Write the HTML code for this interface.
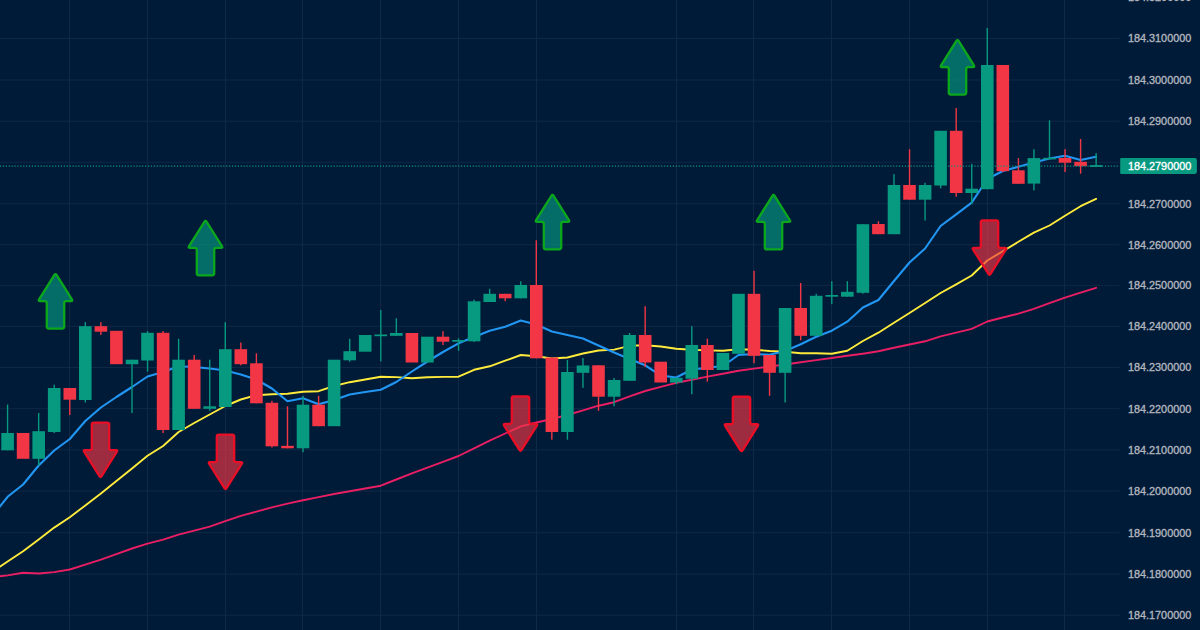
<!DOCTYPE html>
<html lang="en">
<head>
<meta charset="utf-8">
<title>Chart</title>
<style>
html,body{margin:0;padding:0;background:#001b38;}
body{width:1200px;height:630px;overflow:hidden;font-family:"Liberation Sans",sans-serif;}
svg{display:block;}
</style>
</head>
<body>
<svg width="1200" height="630" viewBox="0 0 1200 630">
<rect width="1200" height="630" fill="#001b38"/>
<g stroke="#0f2845" stroke-width="1" shape-rendering="auto"><line x1="0" y1="38.5" x2="1119.5" y2="38.5"/><line x1="0" y1="80.0" x2="1119.5" y2="80.0"/><line x1="0" y1="121.2" x2="1119.5" y2="121.2"/><line x1="0" y1="162.4" x2="1119.5" y2="162.4"/><line x1="0" y1="203.7" x2="1119.5" y2="203.7"/><line x1="0" y1="244.7" x2="1119.5" y2="244.7"/><line x1="0" y1="285.4" x2="1119.5" y2="285.4"/><line x1="0" y1="326.3" x2="1119.5" y2="326.3"/><line x1="0" y1="367.5" x2="1119.5" y2="367.5"/><line x1="0" y1="408.7" x2="1119.5" y2="408.7"/><line x1="0" y1="449.8" x2="1119.5" y2="449.8"/><line x1="0" y1="491.0" x2="1119.5" y2="491.0"/><line x1="0" y1="532.7" x2="1119.5" y2="532.7"/><line x1="0" y1="574.2" x2="1119.5" y2="574.2"/><line x1="0" y1="615.2" x2="1119.5" y2="615.2"/><line x1="69.5" y1="0" x2="69.5" y2="630"/><line x1="147.5" y1="0" x2="147.5" y2="630"/><line x1="225.5" y1="0" x2="225.5" y2="630"/><line x1="302.5" y1="0" x2="302.5" y2="630"/><line x1="380.5" y1="0" x2="380.5" y2="630"/><line x1="458.5" y1="0" x2="458.5" y2="630"/><line x1="536.5" y1="0" x2="536.5" y2="630"/><line x1="676.5" y1="0" x2="676.5" y2="630"/><line x1="753.5" y1="0" x2="753.5" y2="630"/><line x1="831.5" y1="0" x2="831.5" y2="630"/><line x1="909.5" y1="0" x2="909.5" y2="630"/><line x1="987.5" y1="0" x2="987.5" y2="630"/><line x1="1064.5" y1="0" x2="1064.5" y2="630"/></g>
<polyline points="-8.0,577.0 7.6,575.4 23.1,572.8 38.7,573.5 54.2,572.1 69.8,569.5 85.3,564.6 100.9,559.7 116.4,554.1 132.0,548.5 147.5,543.7 163.1,539.7 178.6,534.7 194.2,530.6 209.7,526.7 225.3,521.1 240.8,515.9 256.4,511.6 271.9,507.4 287.5,503.7 303.0,500.2 318.6,497.1 334.1,494.0 349.7,491.3 365.2,488.5 380.8,485.7 396.3,479.5 411.9,473.4 427.4,467.7 443.0,461.9 458.5,456.0 474.1,448.3 489.7,440.7 505.2,433.5 520.8,426.3 536.3,422.5 551.9,419.0 567.4,415.0 583.0,410.3 598.5,405.7 614.1,402.2 629.6,396.3 645.2,391.0 660.7,386.8 676.3,382.8 691.8,379.7 707.4,376.6 722.9,373.8 738.5,370.8 754.0,368.6 769.6,366.5 785.1,364.5 800.7,362.3 816.2,360.1 831.8,358.0 847.3,355.8 862.9,353.7 878.4,351.3 894.0,347.7 909.5,344.5 925.1,341.3 940.6,336.3 956.2,332.6 971.7,328.8 987.3,321.5 1002.8,317.5 1018.4,313.6 1033.9,308.8 1049.5,303.2 1065.0,297.6 1080.6,292.6 1096.1,287.8" fill="none" stroke="#e91e63" stroke-width="1.9" stroke-linejoin="round" stroke-linecap="round"/>
<polyline points="-8.0,572.0 7.6,561.5 23.1,551.3 38.7,539.5 54.2,527.6 69.8,517.3 85.3,505.4 100.9,493.5 116.4,481.0 132.0,468.4 147.5,455.8 163.1,446.0 178.6,432.0 194.2,423.0 209.7,414.5 225.3,406.0 240.8,399.5 256.4,395.2 271.9,394.2 287.5,393.7 303.0,391.8 318.6,391.2 334.1,386.0 349.7,382.2 365.2,379.5 380.8,376.7 396.3,377.1 411.9,378.3 427.4,377.2 443.0,376.9 458.5,376.7 474.1,369.8 489.7,366.3 505.2,360.7 520.8,355.0 536.3,356.3 551.9,358.5 567.4,357.5 583.0,353.5 598.5,350.5 614.1,349.6 629.6,345.8 645.2,345.3 660.7,346.5 676.3,348.8 691.8,349.7 707.4,350.4 722.9,350.8 738.5,349.3 754.0,349.8 769.6,351.0 785.1,351.8 800.7,353.3 816.2,353.3 831.8,353.8 847.3,350.8 862.9,341.0 878.4,332.7 894.0,322.8 909.5,313.0 925.1,303.0 940.6,293.0 956.2,284.3 971.7,275.5 987.3,260.5 1002.8,251.2 1018.4,241.8 1033.9,232.6 1049.5,225.5 1065.0,215.8 1080.6,206.2 1096.1,198.8" fill="none" stroke="#ffeb3b" stroke-width="1.9" stroke-linejoin="round" stroke-linecap="round"/>
<polyline points="-8.0,516.5 7.6,496.8 23.1,484.5 38.7,465.5 54.2,450.5 69.8,439.0 85.3,421.0 100.9,407.5 116.4,397.0 132.0,387.0 147.5,376.5 163.1,372.0 178.6,366.3 194.2,367.0 209.7,368.5 225.3,370.5 240.8,374.5 256.4,379.5 271.9,388.5 287.5,401.3 303.0,398.3 318.6,404.3 334.1,400.0 349.7,394.5 365.2,392.0 380.8,389.7 396.3,382.0 411.9,371.5 427.4,361.5 443.0,352.0 458.5,343.3 474.1,337.0 489.7,330.8 505.2,326.7 520.8,320.6 536.3,324.5 551.9,331.5 567.4,335.0 583.0,338.5 598.5,345.5 614.1,352.5 629.6,359.0 645.2,365.3 660.7,375.5 676.3,377.5 691.8,369.5 707.4,367.7 722.9,366.0 738.5,355.0 754.0,354.0 769.6,354.8 785.1,351.0 800.7,344.2 816.2,336.8 831.8,330.7 847.3,321.7 862.9,307.5 878.4,300.0 894.0,281.0 909.5,262.5 925.1,248.5 940.6,226.0 956.2,214.3 971.7,202.7 987.3,179.0 1002.8,171.0 1018.4,166.7 1033.9,162.5 1049.5,158.5 1065.0,155.8 1080.6,160.0 1096.1,156.8" fill="none" stroke="#2196f3" stroke-width="2.1" stroke-linejoin="round" stroke-linecap="round"/>
<g><rect x="6.87" y="404.5" width="1.4" height="45.8" fill="#089981"/><rect x="1.3" y="433.0" width="12.6" height="17.3" fill="#089981"/><rect x="16.8" y="433.0" width="12.6" height="25.8" fill="#f23645"/><rect x="37.97" y="413.0" width="1.4" height="52.8" fill="#089981"/><rect x="32.4" y="431.2" width="12.6" height="27.6" fill="#089981"/><rect x="53.52" y="384.7" width="1.4" height="48.3" fill="#089981"/><rect x="47.9" y="388.0" width="12.6" height="44.0" fill="#089981"/><rect x="69.07" y="388.0" width="1.4" height="27.0" fill="#f23645"/><rect x="63.5" y="388.0" width="12.6" height="11.7" fill="#f23645"/><rect x="84.62" y="322.2" width="1.4" height="80.3" fill="#089981"/><rect x="79.0" y="326.2" width="12.6" height="73.8" fill="#089981"/><rect x="100.18" y="322.2" width="1.4" height="12.8" fill="#f23645"/><rect x="94.6" y="326.2" width="12.6" height="5.5" fill="#f23645"/><rect x="110.1" y="330.8" width="12.6" height="33.4" fill="#f23645"/><rect x="131.28" y="359.7" width="1.4" height="53.3" fill="#089981"/><rect x="125.7" y="359.7" width="12.6" height="4.5" fill="#089981"/><rect x="146.83" y="331.2" width="1.4" height="40.5" fill="#089981"/><rect x="141.2" y="332.8" width="12.6" height="27.7" fill="#089981"/><rect x="162.38" y="331.0" width="1.4" height="102.0" fill="#f23645"/><rect x="156.8" y="332.8" width="12.6" height="97.2" fill="#f23645"/><rect x="177.93" y="338.8" width="1.4" height="91.2" fill="#089981"/><rect x="172.3" y="359.7" width="12.6" height="70.3" fill="#089981"/><rect x="193.48" y="355.0" width="1.4" height="53.8" fill="#f23645"/><rect x="187.9" y="359.7" width="12.6" height="49.1" fill="#f23645"/><rect x="209.03" y="359.7" width="1.4" height="51.1" fill="#089981"/><rect x="203.4" y="406.3" width="12.6" height="2.5" fill="#089981"/><rect x="224.58" y="322.2" width="1.4" height="84.8" fill="#089981"/><rect x="219.0" y="349.2" width="12.6" height="57.8" fill="#089981"/><rect x="240.14" y="342.5" width="1.4" height="22.8" fill="#f23645"/><rect x="234.5" y="349.2" width="12.6" height="15.0" fill="#f23645"/><rect x="255.69" y="353.3" width="1.4" height="50.0" fill="#f23645"/><rect x="250.1" y="363.3" width="12.6" height="40.0" fill="#f23645"/><rect x="271.24" y="400.8" width="1.4" height="46.7" fill="#f23645"/><rect x="265.6" y="402.8" width="12.6" height="43.5" fill="#f23645"/><rect x="286.79" y="406.3" width="1.4" height="42.0" fill="#f23645"/><rect x="281.2" y="445.8" width="12.6" height="2.5" fill="#f23645"/><rect x="302.34" y="395.8" width="1.4" height="56.4" fill="#089981"/><rect x="296.7" y="404.7" width="12.6" height="43.6" fill="#089981"/><rect x="317.89" y="395.8" width="1.4" height="30.4" fill="#f23645"/><rect x="312.3" y="404.7" width="12.6" height="21.5" fill="#f23645"/><rect x="327.8" y="359.7" width="12.6" height="66.5" fill="#089981"/><rect x="348.99" y="338.8" width="1.4" height="22.9" fill="#089981"/><rect x="343.4" y="351.2" width="12.6" height="9.1" fill="#089981"/><rect x="358.9" y="335.0" width="12.6" height="16.7" fill="#089981"/><rect x="380.09" y="310.0" width="1.4" height="51.3" fill="#089981"/><rect x="374.5" y="334.5" width="12.6" height="1.7" fill="#089981"/><rect x="395.64" y="318.3" width="1.4" height="17.5" fill="#089981"/><rect x="390.0" y="333.0" width="12.6" height="2.8" fill="#089981"/><rect x="405.6" y="333.0" width="12.6" height="29.5" fill="#f23645"/><rect x="421.1" y="336.7" width="12.6" height="25.8" fill="#089981"/><rect x="442.30" y="331.2" width="1.4" height="13.8" fill="#f23645"/><rect x="436.7" y="336.7" width="12.6" height="5.0" fill="#f23645"/><rect x="457.85" y="338.3" width="1.4" height="12.5" fill="#089981"/><rect x="452.2" y="340.0" width="12.6" height="1.7" fill="#089981"/><rect x="473.40" y="299.7" width="1.4" height="42.3" fill="#089981"/><rect x="467.8" y="301.3" width="12.6" height="40.0" fill="#089981"/><rect x="488.95" y="288.8" width="1.4" height="13.2" fill="#089981"/><rect x="483.4" y="293.8" width="12.6" height="8.2" fill="#089981"/><rect x="504.50" y="293.8" width="1.4" height="7.4" fill="#f23645"/><rect x="498.9" y="293.8" width="12.6" height="4.5" fill="#f23645"/><rect x="520.05" y="281.3" width="1.4" height="17.0" fill="#089981"/><rect x="514.5" y="285.0" width="12.6" height="13.3" fill="#089981"/><rect x="535.60" y="240.3" width="1.4" height="118.0" fill="#f23645"/><rect x="530.0" y="285.0" width="12.6" height="73.3" fill="#f23645"/><rect x="551.15" y="357.5" width="1.4" height="82.2" fill="#f23645"/><rect x="545.6" y="357.5" width="12.6" height="74.5" fill="#f23645"/><rect x="566.71" y="360.0" width="1.4" height="79.7" fill="#089981"/><rect x="561.1" y="372.0" width="12.6" height="60.0" fill="#089981"/><rect x="582.26" y="358.0" width="1.4" height="29.8" fill="#089981"/><rect x="576.7" y="365.5" width="12.6" height="7.3" fill="#089981"/><rect x="597.81" y="365.3" width="1.4" height="45.5" fill="#f23645"/><rect x="592.2" y="365.3" width="12.6" height="31.4" fill="#f23645"/><rect x="613.36" y="378.0" width="1.4" height="28.3" fill="#089981"/><rect x="607.8" y="380.0" width="12.6" height="16.7" fill="#089981"/><rect x="628.91" y="333.0" width="1.4" height="47.8" fill="#089981"/><rect x="623.3" y="335.0" width="12.6" height="45.8" fill="#089981"/><rect x="644.46" y="306.2" width="1.4" height="60.8" fill="#f23645"/><rect x="638.9" y="335.0" width="12.6" height="27.5" fill="#f23645"/><rect x="654.4" y="361.7" width="12.6" height="20.8" fill="#f23645"/><rect x="675.56" y="377.8" width="1.4" height="6.4" fill="#089981"/><rect x="670.0" y="377.8" width="12.6" height="4.7" fill="#089981"/><rect x="691.11" y="326.2" width="1.4" height="68.0" fill="#089981"/><rect x="685.5" y="345.0" width="12.6" height="33.7" fill="#089981"/><rect x="706.66" y="338.7" width="1.4" height="43.0" fill="#f23645"/><rect x="701.1" y="345.0" width="12.6" height="25.0" fill="#f23645"/><rect x="716.6" y="353.0" width="12.6" height="17.0" fill="#089981"/><rect x="732.2" y="293.8" width="12.6" height="60.0" fill="#089981"/><rect x="753.32" y="270.8" width="1.4" height="92.5" fill="#f23645"/><rect x="747.7" y="293.8" width="12.6" height="62.0" fill="#f23645"/><rect x="768.87" y="355.0" width="1.4" height="40.8" fill="#f23645"/><rect x="763.3" y="355.0" width="12.6" height="17.8" fill="#f23645"/><rect x="784.42" y="308.0" width="1.4" height="94.5" fill="#089981"/><rect x="778.8" y="308.0" width="12.6" height="64.8" fill="#089981"/><rect x="799.97" y="283.0" width="1.4" height="57.3" fill="#f23645"/><rect x="794.4" y="308.0" width="12.6" height="27.8" fill="#f23645"/><rect x="815.52" y="293.8" width="1.4" height="42.0" fill="#089981"/><rect x="809.9" y="295.8" width="12.6" height="40.0" fill="#089981"/><rect x="831.07" y="281.2" width="1.4" height="23.0" fill="#089981"/><rect x="825.5" y="295.0" width="12.6" height="1.7" fill="#089981"/><rect x="846.62" y="281.2" width="1.4" height="15.5" fill="#089981"/><rect x="841.0" y="291.8" width="12.6" height="4.9" fill="#089981"/><rect x="862.18" y="224.2" width="1.4" height="69.5" fill="#089981"/><rect x="856.6" y="224.2" width="12.6" height="68.6" fill="#089981"/><rect x="877.73" y="221.2" width="1.4" height="13.0" fill="#f23645"/><rect x="872.1" y="224.0" width="12.6" height="10.2" fill="#f23645"/><rect x="893.28" y="174.2" width="1.4" height="60.0" fill="#089981"/><rect x="887.7" y="185.0" width="12.6" height="49.2" fill="#089981"/><rect x="908.83" y="149.2" width="1.4" height="50.5" fill="#f23645"/><rect x="903.2" y="185.0" width="12.6" height="14.7" fill="#f23645"/><rect x="924.38" y="182.8" width="1.4" height="37.7" fill="#089981"/><rect x="918.8" y="185.0" width="12.6" height="14.7" fill="#089981"/><rect x="939.93" y="130.8" width="1.4" height="57.5" fill="#089981"/><rect x="934.3" y="130.8" width="12.6" height="54.7" fill="#089981"/><rect x="955.48" y="108.0" width="1.4" height="88.7" fill="#f23645"/><rect x="949.9" y="130.8" width="12.6" height="62.2" fill="#f23645"/><rect x="971.03" y="163.8" width="1.4" height="40.4" fill="#089981"/><rect x="965.4" y="188.7" width="12.6" height="4.3" fill="#089981"/><rect x="986.58" y="28.0" width="1.4" height="161.2" fill="#089981"/><rect x="981.0" y="65.0" width="12.6" height="124.2" fill="#089981"/><rect x="1002.13" y="65.0" width="1.4" height="107.0" fill="#f23645"/><rect x="996.5" y="65.0" width="12.6" height="106.2" fill="#f23645"/><rect x="1017.69" y="158.0" width="1.4" height="25.8" fill="#f23645"/><rect x="1012.1" y="170.3" width="12.6" height="13.5" fill="#f23645"/><rect x="1033.24" y="149.2" width="1.4" height="41.2" fill="#089981"/><rect x="1027.6" y="158.1" width="12.6" height="25.5" fill="#089981"/><rect x="1048.79" y="120.3" width="1.4" height="38.9" fill="#089981"/><rect x="1043.2" y="157.8" width="12.6" height="1.6" fill="#089981"/><rect x="1064.34" y="149.2" width="1.4" height="22.8" fill="#f23645"/><rect x="1058.7" y="158.0" width="12.6" height="4.7" fill="#f23645"/><rect x="1079.89" y="139.0" width="1.4" height="34.7" fill="#f23645"/><rect x="1074.3" y="161.8" width="12.6" height="4.4" fill="#f23645"/><rect x="1095.44" y="153.1" width="1.4" height="13.8" fill="#089981"/><rect x="1089.8" y="165.1" width="12.6" height="1.8" fill="#089981"/></g>
<line x1="0" y1="166.1" x2="1119.5" y2="166.1" stroke="#089981" stroke-width="1.6" stroke-dasharray="1.2 1.7" opacity="0.7"/>
<path d="M54.44,274.94 Q55.50,273.25 56.56,274.94 L71.89,299.36 Q72.95,301.05 70.95,301.05 L66.20,301.05 Q64.20,301.05 64.20,303.05 L64.20,326.55 Q64.20,328.55 62.20,328.55 L48.80,328.55 Q46.80,328.55 46.80,326.55 L46.80,303.05 Q46.80,301.05 44.80,301.05 L40.05,301.05 Q38.05,301.05 39.11,299.36 Z" fill="rgba(8,153,129,0.65)" stroke="#0ba81c" stroke-width="2.3" stroke-linejoin="round"/>
<path d="M204.44,221.74 Q205.50,220.05 206.56,221.74 L221.89,246.16 Q222.95,247.85 220.95,247.85 L216.20,247.85 Q214.20,247.85 214.20,249.85 L214.20,273.35 Q214.20,275.35 212.20,275.35 L198.80,275.35 Q196.80,275.35 196.80,273.35 L196.80,249.85 Q196.80,247.85 194.80,247.85 L190.05,247.85 Q188.05,247.85 189.11,246.16 Z" fill="rgba(8,153,129,0.65)" stroke="#0ba81c" stroke-width="2.3" stroke-linejoin="round"/>
<path d="M551.44,195.74 Q552.50,194.05 553.56,195.74 L568.89,220.16 Q569.95,221.85 567.95,221.85 L563.20,221.85 Q561.20,221.85 561.20,223.85 L561.20,247.35 Q561.20,249.35 559.20,249.35 L545.80,249.35 Q543.80,249.35 543.80,247.35 L543.80,223.85 Q543.80,221.85 541.80,221.85 L537.05,221.85 Q535.05,221.85 536.11,220.16 Z" fill="rgba(8,153,129,0.65)" stroke="#0ba81c" stroke-width="2.3" stroke-linejoin="round"/>
<path d="M772.44,195.84 Q773.50,194.15 774.56,195.84 L789.89,220.26 Q790.95,221.95 788.95,221.95 L784.20,221.95 Q782.20,221.95 782.20,223.95 L782.20,247.45 Q782.20,249.45 780.20,249.45 L766.80,249.45 Q764.80,249.45 764.80,247.45 L764.80,223.95 Q764.80,221.95 762.80,221.95 L758.05,221.95 Q756.05,221.95 757.11,220.26 Z" fill="rgba(8,153,129,0.65)" stroke="#0ba81c" stroke-width="2.3" stroke-linejoin="round"/>
<path d="M956.44,40.94 Q957.50,39.25 958.56,40.94 L973.89,65.36 Q974.95,67.05 972.95,67.05 L968.20,67.05 Q966.20,67.05 966.20,69.05 L966.20,92.55 Q966.20,94.55 964.20,94.55 L950.80,94.55 Q948.80,94.55 948.80,92.55 L948.80,69.05 Q948.80,67.05 946.80,67.05 L942.05,67.05 Q940.05,67.05 941.11,65.36 Z" fill="rgba(8,153,129,0.65)" stroke="#0ba81c" stroke-width="2.3" stroke-linejoin="round"/>
<path d="M99.44,476.16 Q100.50,477.85 101.56,476.16 L116.89,451.74 Q117.95,450.05 115.95,450.05 L111.20,450.05 Q109.20,450.05 109.20,448.05 L109.20,424.55 Q109.20,422.55 107.20,422.55 L93.80,422.55 Q91.80,422.55 91.80,424.55 L91.80,448.05 Q91.80,450.05 89.80,450.05 L85.05,450.05 Q83.05,450.05 84.11,451.74 Z" fill="rgba(242,54,69,0.65)" stroke="#ea0f26" stroke-width="2.3" stroke-linejoin="round"/>
<path d="M224.44,488.16 Q225.50,489.85 226.56,488.16 L241.89,463.74 Q242.95,462.05 240.95,462.05 L236.20,462.05 Q234.20,462.05 234.20,460.05 L234.20,436.55 Q234.20,434.55 232.20,434.55 L218.80,434.55 Q216.80,434.55 216.80,436.55 L216.80,460.05 Q216.80,462.05 214.80,462.05 L210.05,462.05 Q208.05,462.05 209.11,463.74 Z" fill="rgba(242,54,69,0.65)" stroke="#ea0f26" stroke-width="2.3" stroke-linejoin="round"/>
<path d="M519.44,449.96 Q520.50,451.65 521.56,449.96 L536.89,425.54 Q537.95,423.85 535.95,423.85 L531.20,423.85 Q529.20,423.85 529.20,421.85 L529.20,398.35 Q529.20,396.35 527.20,396.35 L513.80,396.35 Q511.80,396.35 511.80,398.35 L511.80,421.85 Q511.80,423.85 509.80,423.85 L505.05,423.85 Q503.05,423.85 504.11,425.54 Z" fill="rgba(242,54,69,0.65)" stroke="#ea0f26" stroke-width="2.3" stroke-linejoin="round"/>
<path d="M740.44,450.36 Q741.50,452.05 742.56,450.36 L757.89,425.94 Q758.95,424.25 756.95,424.25 L752.20,424.25 Q750.20,424.25 750.20,422.25 L750.20,398.75 Q750.20,396.75 748.20,396.75 L734.80,396.75 Q732.80,396.75 732.80,398.75 L732.80,422.25 Q732.80,424.25 730.80,424.25 L726.05,424.25 Q724.05,424.25 725.11,425.94 Z" fill="rgba(242,54,69,0.65)" stroke="#ea0f26" stroke-width="2.3" stroke-linejoin="round"/>
<path d="M988.44,273.96 Q989.50,275.65 990.56,273.96 L1005.89,249.54 Q1006.95,247.85 1004.95,247.85 L1000.20,247.85 Q998.20,247.85 998.20,245.85 L998.20,222.35 Q998.20,220.35 996.20,220.35 L982.80,220.35 Q980.80,220.35 980.80,222.35 L980.80,245.85 Q980.80,247.85 978.80,247.85 L974.05,247.85 Q972.05,247.85 973.11,249.54 Z" fill="rgba(242,54,69,0.65)" stroke="#ea0f26" stroke-width="2.3" stroke-linejoin="round"/>
<g font-family="'Liberation Sans', sans-serif" font-size="11.4" fill="#b2b5be" stroke="#b2b5be" stroke-width="0.35"><text x="1127.9" y="1.3" textLength="63.4" lengthAdjust="spacingAndGlyphs">184.3200000</text><text x="1127.9" y="42.3" textLength="63.4" lengthAdjust="spacingAndGlyphs">184.3100000</text><text x="1127.9" y="83.8" textLength="63.4" lengthAdjust="spacingAndGlyphs">184.3000000</text><text x="1127.9" y="125.0" textLength="63.4" lengthAdjust="spacingAndGlyphs">184.2900000</text><text x="1127.9" y="207.5" textLength="63.4" lengthAdjust="spacingAndGlyphs">184.2700000</text><text x="1127.9" y="248.5" textLength="63.4" lengthAdjust="spacingAndGlyphs">184.2600000</text><text x="1127.9" y="289.2" textLength="63.4" lengthAdjust="spacingAndGlyphs">184.2500000</text><text x="1127.9" y="330.1" textLength="63.4" lengthAdjust="spacingAndGlyphs">184.2400000</text><text x="1127.9" y="371.3" textLength="63.4" lengthAdjust="spacingAndGlyphs">184.2300000</text><text x="1127.9" y="412.5" textLength="63.4" lengthAdjust="spacingAndGlyphs">184.2200000</text><text x="1127.9" y="453.6" textLength="63.4" lengthAdjust="spacingAndGlyphs">184.2100000</text><text x="1127.9" y="494.8" textLength="63.4" lengthAdjust="spacingAndGlyphs">184.2000000</text><text x="1127.9" y="536.5" textLength="63.4" lengthAdjust="spacingAndGlyphs">184.1900000</text><text x="1127.9" y="578.0" textLength="63.4" lengthAdjust="spacingAndGlyphs">184.1800000</text><text x="1127.9" y="619.0" textLength="63.4" lengthAdjust="spacingAndGlyphs">184.1700000</text></g>
<path d="M1121.2,158.1 H1194.8 Q1196.9,158.1 1196.9,160.2 V171.8 Q1196.9,173.9 1194.8,173.9 H1121.2 Q1120.2,173.9 1120.2,172.9 V159.1 Q1120.2,158.1 1121.2,158.1 Z" fill="#089981"/>
<text x="1127.9" y="170.1" font-family="'Liberation Sans', sans-serif" font-size="11.4" fill="#ffffff" stroke="#ffffff" stroke-width="0.35" textLength="63.4" lengthAdjust="spacingAndGlyphs">184.2790000</text>
</svg>
</body>
</html>
